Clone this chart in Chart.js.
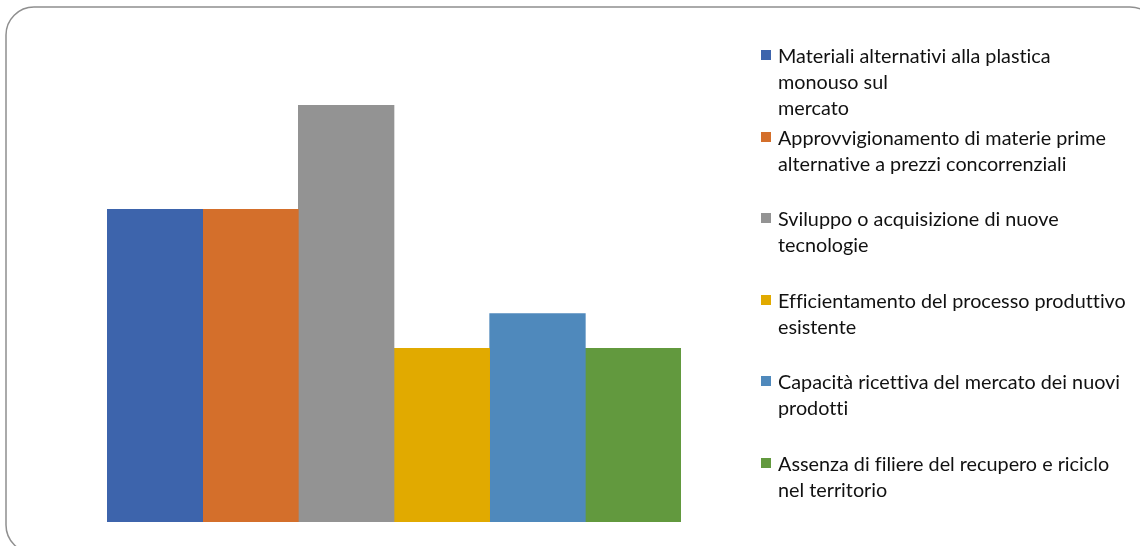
<!DOCTYPE html>
<html>
<head>
<meta charset="utf-8">
<script src="https://cdn.jsdelivr.net/npm/chart.js@4.4.1/dist/chart.umd.min.js"></script>
<style>
  html, body { margin: 0; padding: 0; background: #fff; }
  #wrap { position: relative; width: 1140px; height: 546px; overflow: hidden; }
  #chart { position: absolute; left: 0; top: 0; }
  #legend { position: absolute; left: 0; top: 0; font-family: Lato, "Open Sans", sans-serif; font-size: 19.8px; color: #111; font-variant-ligatures: none; }
  .item { position: absolute; left: 761px; line-height: 26px; }
  .swatch { position: absolute; left: 0; top: 8px; width: 10px; height: 10px; }
  .text { margin-left: 17px; white-space: nowrap; }
</style>
</head>
<body>
<div id="wrap">
  <canvas id="chart" width="1140" height="546"></canvas>
  <div id="legend"></div>
</div>
<script>
// Serie del grafico (una barra per voce)
const labels = [
  ['Materiali alternativi alla plastica', 'monouso sul', 'mercato'],
  ['Approvvigionamento di materie prime', 'alternative a prezzi concorrenziali'],
  ['Sviluppo o acquisizione di nuove', 'tecnologie'],
  ['Efficientamento del processo produttivo', 'esistente'],
  ['Capacità ricettiva del mercato dei nuovi', 'prodotti'],
  ['Assenza di filiere del recupero e riciclo', 'nel territorio']
];
const values = [9, 9, 12, 5, 6, 5];
const colors = ['#3d64ac', '#d46f2b', '#939393', '#e1aa00', '#4f89bc', '#62993e'];

// Cornice arrotondata attorno al grafico
const frame = {
  id: 'frame',
  beforeDraw(chart) {
    const ctx = chart.ctx;
    ctx.save();
    ctx.strokeStyle = '#8f8f8f';
    ctx.lineWidth = 1.5;
    ctx.beginPath();
    ctx.roundRect(6, 7, 1152, 546, 28);
    ctx.stroke();
    ctx.restore();
  }
};

const chart = new Chart(document.getElementById('chart'), {
  type: 'bar',
  data: {
    labels: [''],
    datasets: values.map((v, i) => ({
      label: labels[i].join(' '),
      data: [v],
      backgroundColor: colors[i],
      borderWidth: 0,
      categoryPercentage: 1,
      barPercentage: 1
    }))
  },
  options: {
    responsive: false,
    animation: false,
    layout: { padding: { left: 107, right: 459, top: 105, bottom: 24 } },
    scales: {
      x: { display: false },
      y: { display: false, min: 0, max: 12 }
    },
    plugins: {
      legend: { display: false },
      tooltip: { enabled: false }
    }
  },
  plugins: [frame]
});

// Legenda a destra
const legend = document.getElementById('legend');
labels.forEach((lines, i) => {
  const item = document.createElement('div');
  item.className = 'item';
  item.style.top = (42 + i * 81.6) + 'px';
  const sw = document.createElement('div');
  sw.className = 'swatch';
  sw.style.background = colors[i];
  const txt = document.createElement('div');
  txt.className = 'text';
  txt.innerHTML = lines.join('<br>');
  item.appendChild(sw);
  item.appendChild(txt);
  legend.appendChild(item);
});
</script>
</body>
</html>
